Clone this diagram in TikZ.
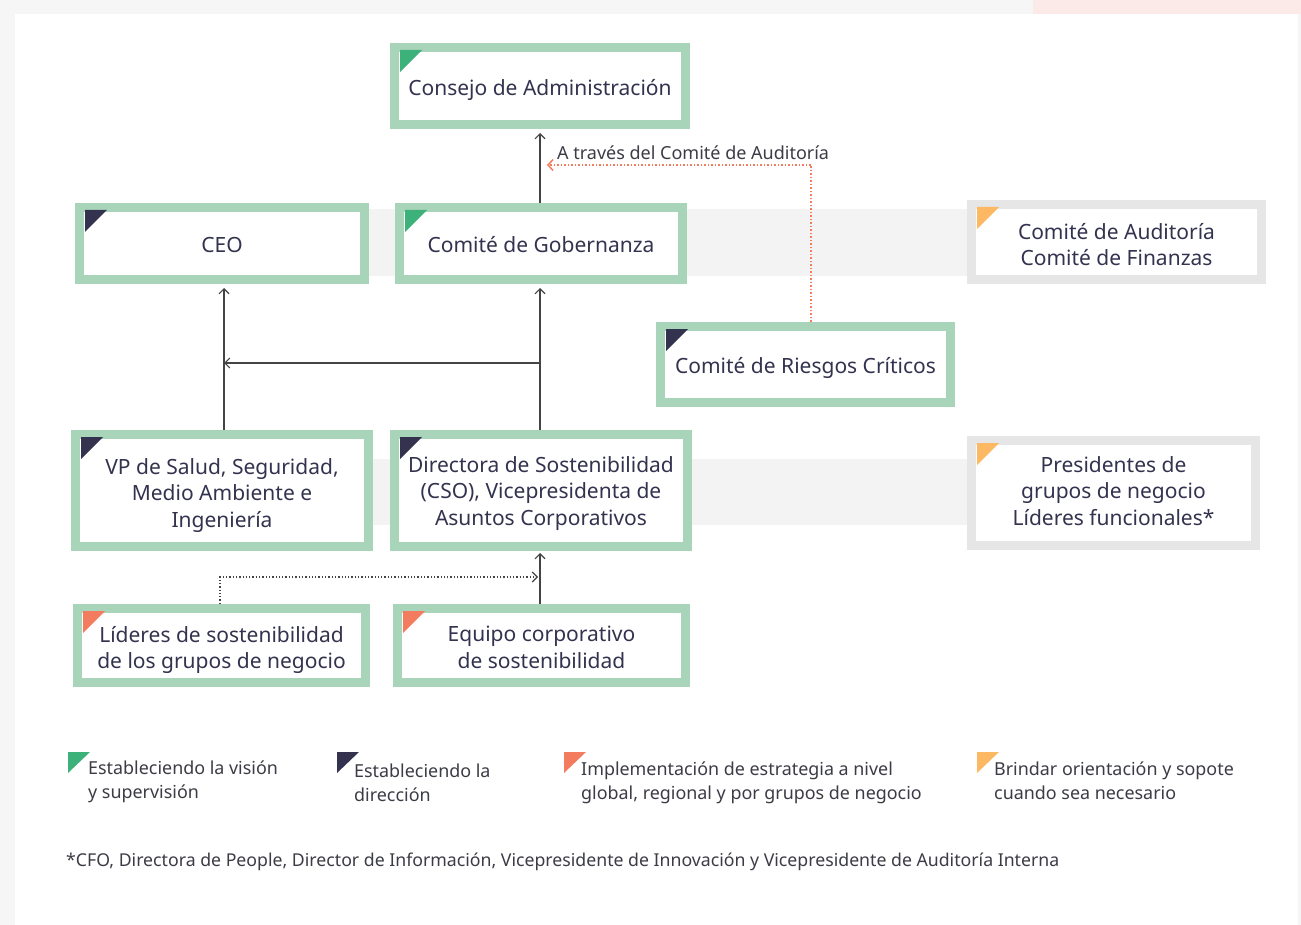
\documentclass[tikz,border=0pt]{standalone}
\usepackage{fontspec}
\setmainfont{Noto Sans}
\usetikzlibrary{arrows.meta}
\definecolor{gborder}{HTML}{A8D5BA}
\definecolor{grayb}{HTML}{E6E6E6}
\definecolor{band}{HTML}{F3F3F3}
\definecolor{cgreen}{HTML}{3DB17A}
\definecolor{cnavy}{HTML}{33334F}
\definecolor{corange}{HTML}{F47C5E}
\definecolor{cyellow}{HTML}{FDB863}
\definecolor{txt}{HTML}{33334F}
\definecolor{ltxt}{HTML}{3C3C46}
\definecolor{lnk}{HTML}{444444}
\definecolor{pinkstrip}{HTML}{FBEAE8}
\definecolor{pagebg}{HTML}{F6F6F6}
% name, style, x, y, w, h, text shift (down +), text
\newcommand\bx[8]{\node[#2,minimum width=#5pt,minimum height=#6pt] (#1) at (#3,#4) {};
  \node[btxt] (#1-t) at ([yshift=-#7pt]#1.center) {#8};}
\newcommand\corner[2]{\fill[#2] ([shift={(10,7)}]#1.north west) -- ++(22,0) -- ++(-22,22) -- cycle;}
\newcommand\legtri[3]{\fill[#3] (#1,#2) -- ++(22,0) -- ++(-22,21) -- cycle;}
\begin{document}
\begin{tikzpicture}[x=1pt,y=-1pt,
  box/.style={draw=gborder,line width=9pt,fill=white,inner sep=0pt,outer sep=4.5pt},
  gbox/.style={box,draw=grayb},
  btxt/.style={text=txt,align=center,font=\fontsize{21}{26.5}\selectfont,inner sep=0pt},
  conn/.style={draw=lnk,line width=1.1pt,-{Straight Barb[length=5pt,width=10pt,line width=1.1pt]}},
  dconn/.style={draw=lnk,line width=1.3pt,dotted,-{Straight Barb[length=5pt,width=10pt,line width=1.1pt]}},
  oconn/.style={draw=corange,line width=1.5pt,dotted,-{Straight Barb[length=5pt,width=11pt,line width=1.5pt,color=corange]}},
  legtext/.style={anchor=north west,inner sep=0pt,align=left,text=ltxt,font=\fontsize{17.9}{23.5}\selectfont}
]
\useasboundingbox (0,0) rectangle (1301,925);
\fill[pagebg] (0,0) rectangle (1301,925);
\fill[pinkstrip] (1033,0) rectangle (1301,14);
\fill[white] (15,14) rectangle (1298,925);
% bands
\fill[band] (300,209) rectangle (1000,276);
\fill[band] (300,459) rectangle (1000,525);
% boxes
\bx{cons}{box}{540}{86}{291}{77}{4}{Consejo de Administración}
\bx{ceo}{box}{222}{243.5}{285}{72}{1}{CEO}
\bx{gob}{box}{541}{243.5}{283}{72}{1.5}{Comité de Gobernanza}
\bx{aud}{gbox}{1116.5}{242}{290}{75}{2.5}{Comité de Auditoría\\Comité de Finanzas}
\bx{ries}{box}{805.5}{364.5}{290}{76}{3}{Comité de Riesgos Críticos}
\bx{vp}{box}{222}{490.5}{293}{112}{5}{VP de Salud, Seguridad,\\Medio Ambiente e\\Ingeniería}
\bx{dir}{box}{541}{490.5}{293}{112}{3}{Directora de Sostenibilidad\\(CSO), Vicepresidenta de\\Asuntos Corporativos}
\bx{pres}{gbox}{1113.5}{493}{284}{105}{-2}{Presidentes de\\grupos de negocio\\Líderes funcionales*}
\bx{lid}{box}{221.5}{645.5}{288}{74}{4.5}{Líderes de sostenibilidad\\de los grupos de negocio}
\bx{equ}{box}{541.5}{645.5}{288}{74}{2}{Equipo corporativo\\de sostenibilidad}
% corners
\corner{cons}{cgreen}
\corner{ceo}{cnavy}
\corner{gob}{cgreen}
\corner{aud}{cyellow}
\corner{ries}{cnavy}
\corner{vp}{cnavy}
\corner{dir}{cnavy}
\corner{pres}{cyellow}
\corner{lid}{corange}
\corner{equ}{corange}
% connectors
\draw[conn] (gob.north -| 540,0) -- ([yshift=-4pt]cons.south -| 540,0);
\draw[conn] (vp.north -| 224,0) -- ([yshift=-4pt]ceo.south -| 224,0);
\draw[conn] (dir.north -| 540,0) -- ([yshift=-4pt]gob.south -| 540,0);
\coordinate (mid) at (540,363);
\draw[conn] (mid) -- (224,363);
\draw[conn] (equ.north -| 540,0) -- ([yshift=-2pt]dir.south -| 540,0);
\coordinate (dbend) at (220,577);
\draw[dconn] (lid.north -| 220,0) -- (dbend) -- (538,577);
\coordinate (obend) at (811,165);
\draw[oconn] (ries.north -| 811,0) -- (obend) -- (547,165);
\node[anchor=west,inner sep=0pt,text=ltxt,font=\fontsize{18}{20}\selectfont] (lbl) at (557,153) {A través del Comité de Auditoría};
% legend
\legtri{68}{752}{cgreen}
\node[legtext] (l1) at (88,761) {Estableciendo la visión\\y supervisión};
\legtri{337}{752}{cnavy}
\node[legtext] (l2) at (354,764) {Estableciendo la\\dirección};
\legtri{564}{752}{corange}
\node[legtext] (l3) at (581,762) {Implementación de estrategia a nivel\\global, regional y por grupos de negocio};
\legtri{977}{752}{cyellow}
\node[legtext] (l4) at (994,762) {Brindar orientación y sopote\\cuando sea necesario};
\node[anchor=west,inner sep=0pt,text=ltxt,font=\fontsize{17.7}{20}\selectfont] (foot) at (66,862) {*CFO, Directora de People, Director de Información, Vicepresidente de Innovación y Vicepresidente de Auditoría Interna};
\end{tikzpicture}
\end{document}
